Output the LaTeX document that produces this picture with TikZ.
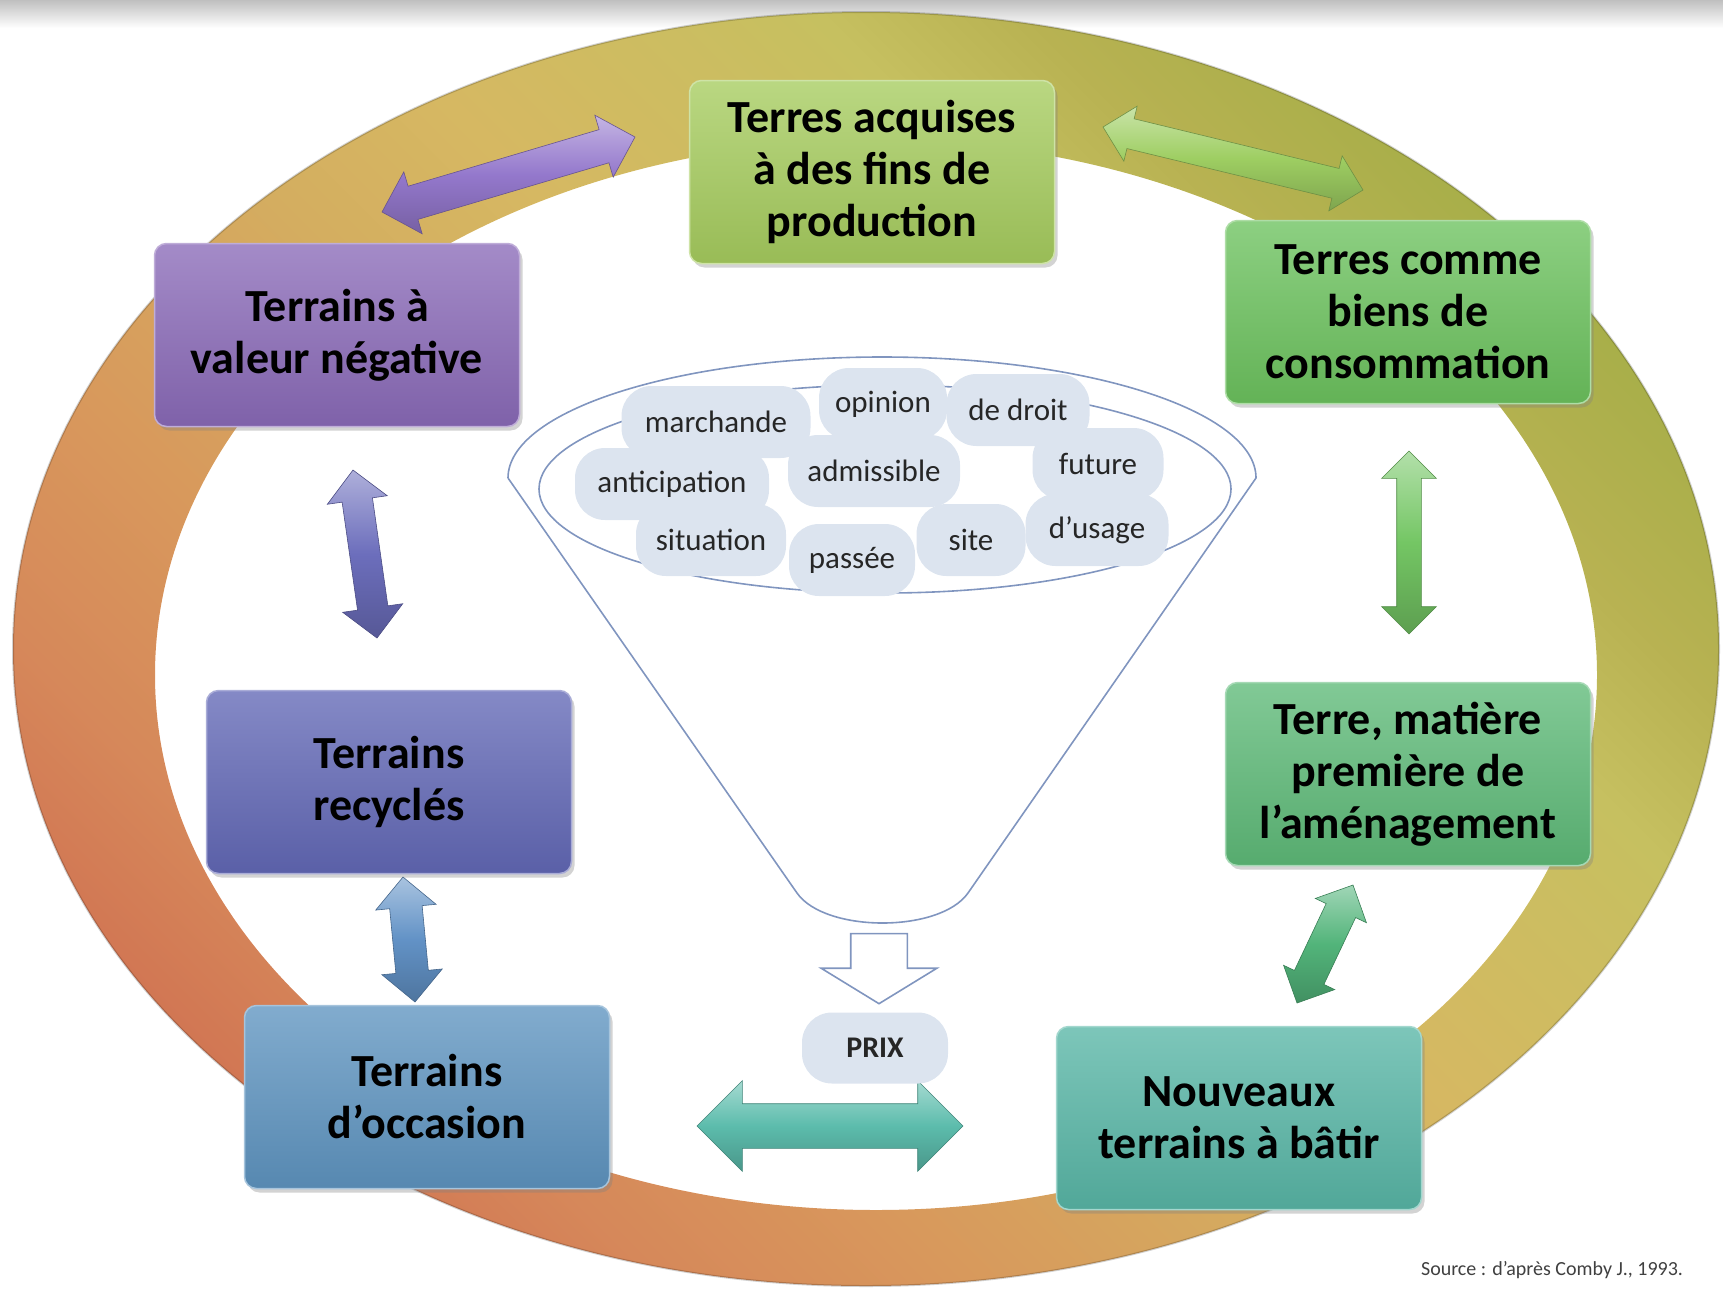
\documentclass[tikz,border=0pt]{standalone}
\usepackage{fontspec}
\setmainfont{Carlito}
\usetikzlibrary{shapes.arrows,shadows,calc}

\definecolor{prodc}{HTML}{A6CC5E}
\definecolor{consc}{HTML}{6CC25E}
\definecolor{amenc}{HTML}{5EBA78}
\definecolor{batirc}{HTML}{58B6A6}
\definecolor{occc}{HTML}{5E94C0}
\definecolor{recyc}{HTML}{6268B6}
\definecolor{negc}{HTML}{8A6AB8}
\definecolor{arrA}{HTML}{9478CC}
\definecolor{arrB}{HTML}{9ECE62}
\definecolor{arrC}{HTML}{74C664}
\definecolor{arrD}{HTML}{52B47A}
\definecolor{arrE}{HTML}{5CBCAC}
\definecolor{arrF}{HTML}{6292C6}
\definecolor{arrG}{HTML}{6C6EBC}
\definecolor{funnelc}{HTML}{8095BF}
\definecolor{bubc}{HTML}{DCE4EF}
\definecolor{srcc}{HTML}{404040}
\definecolor{ringa}{HTML}{CF6E50}
\definecolor{ringb}{HTML}{D6885A}
\definecolor{ringc}{HTML}{D8985C}
\definecolor{ringd}{HTML}{D4AE60}
\definecolor{ringe}{HTML}{D6B862}
\definecolor{ringf}{HTML}{C6C060}
\definecolor{ringg}{HTML}{B8B252}
\definecolor{ringh}{HTML}{A6AE48}

\pgfdeclarehorizontalshading{ringshade}{100bp}{color(0bp)=(ringa); color(22bp)=(ringa);
  color(30bp)=(ringb); color(37bp)=(ringc); color(47bp)=(ringd); color(53bp)=(ringe);
  color(64bp)=(ringf); color(69bp)=(ringg); color(76bp)=(ringh); color(100bp)=(ringh)}

\newcommand\boxfont{\fontsize{46}{52}\selectfont\bfseries}
\newcommand\bubfont{\fontsize{31}{36}\selectfont}
\newcommand\prixfont{\fontsize{30}{36}\selectfont\bfseries}
\newcommand\srcfont{\fontsize{20}{24}\selectfont}

% double block arrow between two named points: from, to, colour, half shaft, head extend
\newcommand\dblarrow[5]{%
  \path let \p1=($(#2)-(#1)$), \n1={atan2(\y1,\x1)}, \n2={veclen(\x1,\y1)} in
    node[bigarrow=#3, rotate=\n1, minimum height=\n2, inner ysep=#4,
         double arrow head extend=#5] at ($(#1)!.5!(#2)$) {};}

\begin{document}
\begin{tikzpicture}[x=1pt,y=-1pt]
    \tikzset{box/.style={rounded corners=12pt, minimum width=365pt, minimum height=183pt,
                         align=center, font=\boxfont, draw=#1!55!white, line width=1.5pt,
                         top color=#1!78!white, bottom color=#1!92!black,
                         drop shadow={shadow xshift=3pt, shadow yshift=-4pt, opacity=.35}},
             bigarrow/.style={double arrow, inner xsep=0pt, minimum width=0pt,
                              draw=#1!70!black, line width=.6pt,
                              top color=#1!55!white, bottom color=#1!80!black, middle color=#1},
             bub/.style={fill=bubc, rounded corners=30pt, minimum height=72pt, inner sep=0pt,
                         font=\bubfont, text=black!85},
             funnel/.style={draw=funnelc, line width=1.6pt}}

    \useasboundingbox (0,0) rectangle (1723,1291);
    \shade[top color=black!25, bottom color=white] (0,0) rectangle (1723,28);

    % ring
    \shade[shading=ringshade, shading angle=45, even odd rule]
        (866,649) ellipse [x radius=853pt, y radius=637pt]
        (876,675) ellipse [x radius=721pt, y radius=535pt];
    \draw[black, opacity=.18, line width=2pt] (866,649) ellipse [x radius=853pt, y radius=637pt];

    % arrows
    \coordinate (neg-a) at (382,212);   \coordinate (prod-a) at (635,137);
    \coordinate (prod-b) at (1103,127); \coordinate (cons-b) at (1363,190);
    \coordinate (amen-c) at (1409,634); \coordinate (cons-c) at (1409,451);
    \coordinate (batir-d) at (1297,1003); \coordinate (amen-d) at (1353,885);
    \coordinate (occ-e) at (697,1126);  \coordinate (batir-e) at (963,1126);
    \coordinate (occ-f) at (415,1002);  \coordinate (recy-f) at (403,877);
    \coordinate (recy-g) at (377,638);  \coordinate (neg-g) at (353,470);
    \dblarrow{neg-a}{prod-a}{arrA}{17pt}{15pt}
    \dblarrow{prod-b}{cons-b}{arrB}{15pt}{13pt}
    \dblarrow{amen-c}{cons-c}{arrC}{12pt}{15pt}
    \dblarrow{batir-d}{amen-d}{arrD}{16pt}{12pt}
    \dblarrow{occ-e}{batir-e}{arrE}{22pt}{23pt}
    \dblarrow{occ-f}{recy-f}{arrF}{16pt}{14pt}
    \dblarrow{recy-g}{neg-g}{arrG}{15pt}{15pt}

    % boxes
    \node[box=prodc] (prod) at (872,172) {Terres acquises\\à des fins de\\production};
    \node[box=consc] (cons) at (1408,312) {Terres comme\\biens de\\consommation};
    \node[box=amenc] (amen) at (1408,774) {Terre, matière\\première de\\l’aménagement};
    \node[box=batirc] (batir) at (1239,1118) {Nouveaux\\terrains à bâtir};
    \node[box=occc] (occ) at (427,1097) {Terrains\\d’occasion};
    \node[box=recyc] (recy) at (389,782) {Terrains\\recyclés};
    \node[box=negc] (neg) at (337,335) {Terrains à\\valeur négative};

    % funnel
    \draw[funnel] (508,478) -- (797,893) .. controls (825,933) and (940,933) .. (968,893)
        -- (1256,478) arc [start angle=0, end angle=180, x radius=374pt, y radius=121pt];
    \draw[funnel] (885,489) ellipse [x radius=346pt, y radius=104pt];

    \node[bub, minimum width=189pt] (marchande) at (716,422) {marchande};
    \node[bub, minimum width=128pt] (opinion) at (883,404) {opinion};
    \node[bub, minimum width=143pt] (droit) at (1018,410) {de droit};
    \node[bub, minimum width=194pt] (anticip) at (672,484) {anticipation};
    \node[bub, minimum width=172pt] (admis) at (874,471) {admissible};
    \node[bub, minimum width=131pt] (future) at (1098,464) {future};
    \node[bub, minimum width=150pt] (situation) at (711,540) {situation};
    \node[bub, minimum width=126pt] (passee) at (852,560) {passée};
    \node[bub, minimum width=109pt] (site) at (971,540) {site};
    \node[bub, minimum width=143pt] (usage) at (1097,530) {d’usage};

    \node[single arrow, rotate=-90, draw=funnelc, line width=1.6pt, fill=white,
          inner xsep=0pt, inner ysep=27.5pt, minimum height=70pt, minimum width=0pt,
          single arrow head extend=29.5pt, single arrow tip angle=117] (down) at (879,960) {};
    \node[bub, minimum width=146pt, minimum height=71pt, font=\prixfont] (prix) at (875,1048) {PRIX};

    \node[font=\srcfont, text=srcc] (source) at (1552,1270) {Source : d’après Comby J., 1993.};
\end{tikzpicture}
\end{document}
